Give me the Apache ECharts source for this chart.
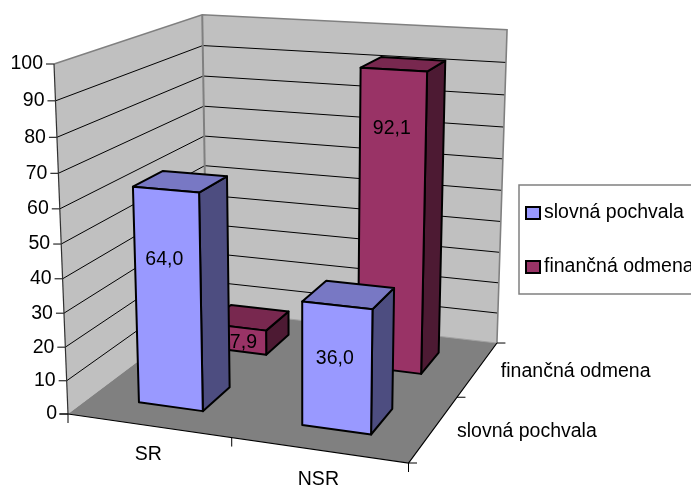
<!DOCTYPE html>
<html><head><meta charset="utf-8">
<style>html,body{margin:0;padding:0;background:#fff;overflow:hidden}#c{width:691px;height:488px}</style>
<script src="https://cdn.jsdelivr.net/npm/echarts@6/dist/echarts.min.js"></script>
</head><body><div id="c"></div>
<script>
// ---- data ----
const categories = ['SR', 'NSR'];
const seriesNames = ['slovná pochvala', 'finančná odmena'];
const slovnaValues = [64.0, 36.0];
const financnaValues = [7.9, 92.1];
const valueTicks = [0, 10, 20, 30, 40, 50, 60, 70, 80, 90, 100];

// ---- layout of the 3D box: a projective map of the unit cube ----
const O = [68, 414], X = [408.5, 463], Y = [207, 309.5], Z = [54, 64];
const wX = 0.926, wY = 1.197, wZ = 0.944;
function project(u, v, t) {
  const d = 1 + (wX - 1) * u + (wY - 1) * v + (wZ - 1) * t;
  const f = i => (O[i] + u * (wX * X[i] - O[i]) + v * (wY * Y[i] - O[i]) + t * (wZ * Z[i] - O[i])) / d;
  return [f(0), f(1)];
}
const barHalf = 0.1, depthCenters = [0.25, 0.75];
const FONT = 'Liberation Sans', FS = 19.5;
const faces = [
  {front: '#9999FF', top: '#7878C4', side: '#4D4D80'},
  {front: '#993366', top: '#78284F', side: '#4D1A33'}
];
// label level on the front face (share of bar height) and nudge
const labelLift = [[0.685, 0.58], [0.33, 0.81]];
const labelNudge = [[-3, -2], [7, -1]];

function poly(pts, fill, stroke, lw) {
  return {type: 'polygon', shape: {points: pts}, style: {fill: fill, stroke: stroke, lineWidth: lw, lineJoin: 'round'}};
}
function line(pts, stroke, lw) {
  return {type: 'polyline', shape: {points: pts}, style: {fill: null, stroke: stroke, lineWidth: lw}};
}
function text(str, x, y, align) {
  return {type: 'text', x: x, y: y, style: {text: str, fill: '#000', font: FS + 'px "' + FONT + '"', align: align, verticalAlign: 'middle'}};
}

const unit = api => [api.getWidth(), api.getHeight()];

function renderFrame(params, api) {
  const ch = [];
  const p = project;
  ch.push(poly([p(0,0,0), p(0,1,0), p(0,1,1), p(0,0,1)], '#C0C0C0', null, 0));
  ch.push(poly([p(0,1,0), p(1,1,0), p(1,1,1), p(0,1,1)], '#C0C0C0', null, 0));
  ch.push(poly([p(0,0,0), p(1,0,0), p(1,1,0), p(0,1,0)], '#808080', null, 0));
  return {type: 'group', children: ch};
}
function renderGrid(params, api) {
  const [w, h] = unit(api);
  const val = api.value(1);
  const t = 1 - api.coord([0, val])[1] / h;
  const ch = [];
  const a = project(0, 0, t), b = project(0, 1, t), c = project(1, 1, t);
  if (val > 0 && val < 100) ch.push(line([a, b, c], '#000', 1));
  ch.push(line([[a[0] - 8, a[1]], a], '#000', 1));
  ch.push(text(String(val), a[0] - 11, a[1], 'right'));
  return {type: 'group', children: ch};
}
function renderEdges(params, api) {
  const p = project, ch = [];
  ch.push(line([p(0,0,1), p(0,1,1), p(1,1,1), p(1,1,0)], '#808080', 1.6));
  ch.push(line([p(0,1,0), p(0,1,1)], '#808080', 2));
  ch.push(line([p(0,1,0), p(1,1,0)], '#A0A0A0', 1));
  ch.push(line([p(0,0,1), p(0,0,0)], '#303030', 1.2));
  ch.push(line([p(0,0,0), p(1,0,0), p(1,1,0)], '#000', 1.2));
  // ticks of the two floor axes
  [0, 0.5, 1].forEach(u => {
    const a = p(u, 0, 0);
    ch.push(line([a, [a[0], a[1] + 9]], '#000', 1));
  });
  [0, 0.5, 1].forEach(v => {
    const a = p(1, v, 0);
    ch.push(line([a, [a[0] + 8.5, a[1]]], '#000', 1));
  });
  const o = p(0,0,0);
  ch.push(line([[o[0] - 9, o[1]], o], '#000', 1));
  categories.forEach((c, i) => {
    const a = p((i + 0.5) / categories.length, 0, 0);
    ch.push(text(c, a[0], a[1] + 29.5, 'center'));
  });
  seriesNames.forEach((n, i) => {
    const a = p(1, depthCenters[i], 0);
    ch.push(text(n, a[0] + 23, a[1] + 3, 'left'));
  });
  return {type: 'group', children: ch};
}
function barRenderer(si) {
  return function (params, api) {
    const [w, h] = unit(api);
    const i = params.dataIndex;
    const val = api.value(1);
    const pt = api.coord([i, val]);
    const uc = pt[0] / w, t = 1 - pt[1] / h;
    const vc = depthCenters[si];
    const u0 = uc - barHalf, u1 = uc + barHalf, v0 = vc - barHalf, v1 = vc + barHalf;
    const c = faces[si], p = project, lw = 2;
    const ch = [
      poly([p(u1,v0,0), p(u1,v1,0), p(u1,v1,t), p(u1,v0,t)], c.side, '#000', lw),
      poly([p(u0,v0,t), p(u1,v0,t), p(u1,v1,t), p(u0,v1,t)], c.top, '#000', lw),
      poly([p(u0,v0,0), p(u1,v0,0), p(u1,v0,t), p(u0,v0,t)], c.front, '#000', lw)
    ];
    const a = p(uc, v0, t * labelLift[si][i]);
    ch.push(text(val.toFixed(1).replace('.', ','), a[0] + labelNudge[si][i], a[1], 'center'));
    return {type: 'group', children: ch};
  };
}

const chart = echarts.init(document.getElementById('c'), null, {renderer: 'canvas'});
chart.setOption({
  animation: false,
  backgroundColor: '#fff',
  grid: {left: 0, right: 0, top: 0, bottom: 0},
  xAxis: {type: 'category', data: categories, show: false},
  yAxis: {type: 'value', min: 0, max: 100, show: false},
  legend: {
    orient: 'vertical', left: 519, top: 185, padding: [18, 30, 17, 6], itemGap: 34,
    itemWidth: 14, itemHeight: 12, icon: 'rect',
    data: seriesNames,
    backgroundColor: '#fff', borderColor: '#808080', borderWidth: 1.5,
    textStyle: {fontFamily: FONT, fontSize: FS, color: '#000', padding: [0, 0, 0, -1]},
    itemStyle: {borderColor: '#000', borderWidth: 2}
  },
  series: [
    {type: 'custom', name: 'frame', silent: true, z: 1, clip: false, data: [[0, 0]], renderItem: renderFrame},
    {type: 'custom', name: 'grid', silent: true, z: 2, clip: false, data: valueTicks.map(v => [0, v]), renderItem: renderGrid},
    {type: 'custom', name: 'edges', silent: true, z: 3, clip: false, data: [[0, 0]], renderItem: renderEdges},
    {type: 'custom', name: seriesNames[1], z: 4, clip: false, itemStyle: {color: faces[1].front},
      data: financnaValues.map((v, i) => [i, v]), renderItem: barRenderer(1)},
    {type: 'custom', name: seriesNames[0], z: 5, clip: false, itemStyle: {color: faces[0].front},
      data: slovnaValues.map((v, i) => [i, v]), renderItem: barRenderer(0)}
  ]
});
</script></body></html>
